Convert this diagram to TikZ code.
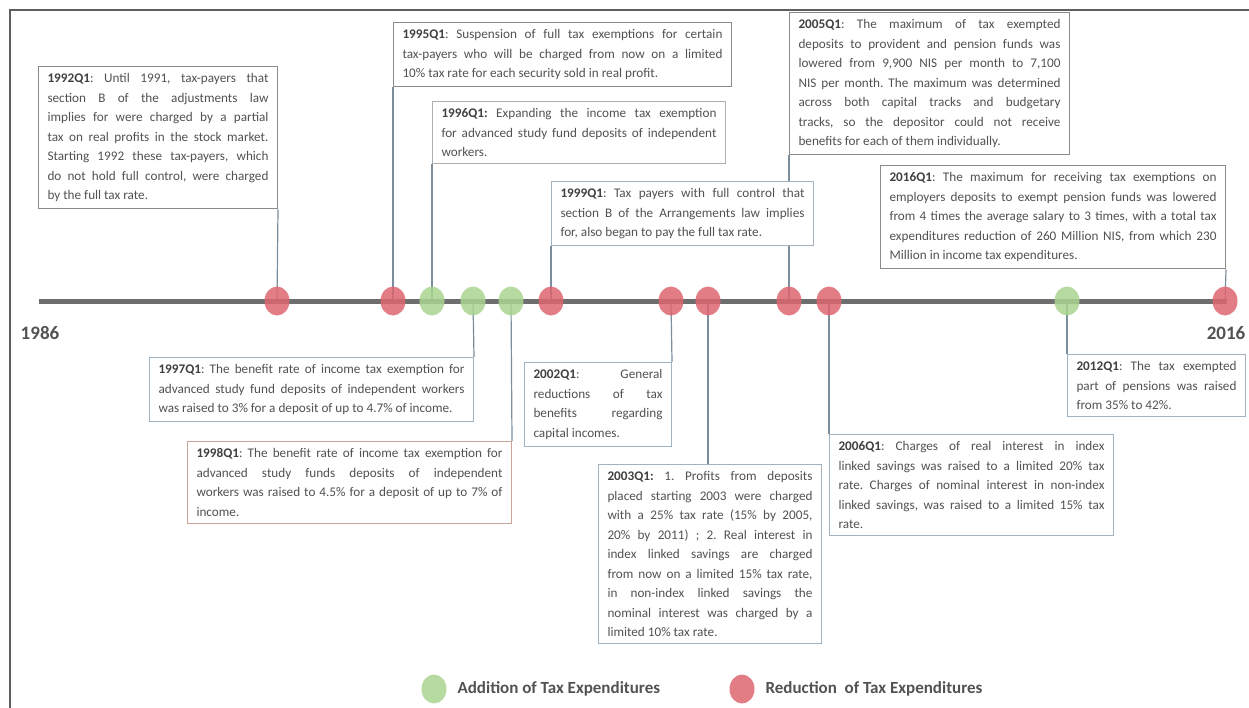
\documentclass[tikz,border=0pt]{standalone}
\usepackage{fontspec}
\setmainfont{Carlito}
\usetikzlibrary{shapes.geometric,backgrounds}
\definecolor{txt}{HTML}{525252}
\definecolor{lbl}{HTML}{404040}
\definecolor{boxgray}{HTML}{8A8A8A}
\definecolor{boxblue}{HTML}{9FB3C3}
\definecolor{boxred}{HTML}{C9A396}
\definecolor{conncol}{HTML}{7A8E9E}
\definecolor{linegray}{HTML}{6E6E6E}
\definecolor{redfill}{HTML}{DE6670}
\definecolor{greenfill}{HTML}{A9D48E}
\definecolor{framecol}{HTML}{5E5E5E}
\hyphenpenalty=10000
\exhyphenpenalty=10000
\frenchspacing
\newcommand{\yr}[1]{\textcolor{lbl}{\textbf{#1}}}
\begin{document}
\begin{tikzpicture}[x=1pt,y=-1pt,
  box/.style={draw=boxgray, line width=1pt, fill=white, anchor=north west,
    inner xsep=9pt, inner ysep=7pt, align=justify, text=txt,
    font=\fontsize{13.2}{19.5}\selectfont\frenchspacing},
  bluebox/.style={box, draw=boxblue},
  redbox/.style={box, draw=boxred},
  conn/.style={draw=conncol, line width=1.2pt},
  dotbase/.style={ellipse, minimum width=25pt, minimum height=29pt, inner sep=0pt, draw=none, fill opacity=0.85},
  reddot/.style={dotbase, fill=redfill},
  greendot/.style={dotbase, fill=greenfill},
  yearlbl/.style={text=txt, font=\fontsize{19}{22}\selectfont\bfseries},
  legendlbl/.style={text=txt, anchor=west, font=\fontsize{17}{20}\selectfont\bfseries}]
\useasboundingbox (0,0) rectangle (1249,707);
% frame
\coordinate (fr0) at (10,707);
\coordinate (fr1) at (10,10);
\coordinate (fr2) at (1249,10);
\draw[framecol, line width=2.5pt, line cap=rect] (fr1) -- (fr2);
\draw[framecol, line width=2.5pt, line cap=rect] (fr1) -- (fr0);
% timeline
\coordinate (tl0) at (39,301);
\coordinate (tl1) at (1227,301);
\draw[linegray, line width=5pt] (tl0) -- (tl1);
% event positions
\coordinate (c1992) at (277,301);
\coordinate (c1995) at (393,301);
\coordinate (c1996) at (432,301);
\coordinate (c1997) at (473,301);
\coordinate (c1998) at (511,301);
\coordinate (c1999) at (551,301);
\coordinate (c2002) at (671,301);
\coordinate (c2003) at (708,301);
\coordinate (c2005) at (789,301);
\coordinate (c2006) at (829,301);
\coordinate (c2012) at (1067,301);
\coordinate (c2016) at (1225,301);
% boxes
\node[box, text width=221pt] (b1992) at (38,66) {\yr{1992Q1}: Until 1991, tax-payers that\linebreak section B of the adjustments law\linebreak implies for were charged by a partial\linebreak tax on real profits in the stock market.\linebreak Starting 1992 these tax-payers, which\linebreak do not hold full control, were charged\linebreak by the full tax rate.};
\node[box, text width=320pt] (b1995) at (393,22) {\yr{1995Q1}: Suspension of full tax exemptions for certain\linebreak tax-payers who will be charged from now on a limited\linebreak 10\% tax rate for each security sold in real profit.};
\node[box, draw=boxgray!70, text width=275pt] (b1996) at (432,101) {\yr{1996Q1:} Expanding the income tax exemption\linebreak for advanced study fund deposits of independent\linebreak workers.};
\node[bluebox, text width=244pt] (b1999) at (551,181) {\yr{1999Q1}: Tax payers with full control that\linebreak section B of the Arrangements law implies\linebreak for, also began to pay the full tax rate.};
\node[box, text width=262pt] (b2005) at (789,12) {\yr{2005Q1}: The maximum of tax exempted\linebreak deposits to provident and pension funds was\linebreak lowered from 9,900 NIS per month to 7,100\linebreak NIS per month. The maximum was determined\linebreak across both capital tracks and budgetary\linebreak tracks, so the depositor could not receive\linebreak benefits for each of them individually.};
\node[box, text width=327pt] (b2016) at (880,165) {\yr{2016Q1}: The maximum for receiving tax exemptions on\linebreak employers deposits to exempt pension funds was lowered\linebreak from 4 times the average salary to 3 times, with a total tax\linebreak expenditures reduction of 260 Million NIS, from which 230\linebreak Million in income tax expenditures.};
\node[bluebox, text width=306pt] (b1997) at (149,357) {\yr{1997Q1}: The benefit rate of income tax exemption for\linebreak advanced study fund deposits of independent workers\linebreak was raised to 3\% for a deposit of up to 4.7\% of income.};
\node[redbox, text width=306pt] (b1998) at (187,441) {\yr{1998Q1}: The benefit rate of income tax exemption for\linebreak advanced study funds deposits of independent\linebreak workers was raised to 4.5\% for a deposit of up to 7\% of\linebreak income.};
\node[bluebox, text width=129pt] (b2002) at (524,362) {\yr{2002Q1}: General\linebreak reductions of tax\linebreak benefits regarding\linebreak capital incomes.};
\node[bluebox, text width=205pt] (b2003) at (598,464) {\yr{2003Q1:} 1. Profits from deposits\linebreak placed starting 2003 were charged\linebreak with a 25\% tax rate (15\% by 2005,\linebreak 20\% by 2011) ; 2. Real interest in\linebreak index linked savings are charged\linebreak from now on a limited 15\% tax rate,\linebreak in non-index linked savings the\linebreak nominal interest was charged by a\linebreak limited 10\% tax rate.};
\node[bluebox, text width=266pt] (b2006) at (829,434) {\yr{2006Q1}: Charges of real interest in index\linebreak linked savings was raised to a limited 20\% tax\linebreak rate. Charges of nominal interest in non-index\linebreak linked savings, was raised to a limited 15\% tax\linebreak rate.};
\node[bluebox, text width=160pt] (b2012) at (1067,354) {\yr{2012Q1}: The tax exempted\linebreak part of pensions was raised\linebreak from 35\% to 42\%.};
% connectors (behind boxes)
\begin{pgfonlayer}{background}
\draw[conn] (c1992) -- (b1992.south east);
\draw[conn] (c1995) -- (b1995.south west);
\draw[conn] (c1996) -- (b1996.south west);
\draw[conn] (c1997) -- (b1997.north east);
\draw[conn] (c1998) -- (b1998.north east);
\draw[conn] (c1999) -- (b1999.south west);
\draw[conn] (c2002) -- (b2002.north east);
\draw[conn] (c2003) -- (b2003.north west -| c2003);
\draw[conn] (c2005) -- (b2005.south west);
\draw[conn] (c2006) -- (b2006.north west);
\draw[conn] (c2012) -- (b2012.north west);
\draw[conn] (c2016) -- (b2016.south east);
\end{pgfonlayer}
% dots
\node[reddot] (d1992) at (c1992) {};
\node[reddot] (d1995) at (c1995) {};
\node[greendot] (d1996) at (c1996) {};
\node[greendot] (d1997) at (c1997) {};
\node[greendot] (d1998) at (c1998) {};
\node[reddot] (d1999) at (c1999) {};
\node[reddot] (d2002) at (c2002) {};
\node[reddot] (d2003) at (c2003) {};
\node[reddot] (d2005) at (c2005) {};
\node[reddot] (d2006) at (c2006) {};
\node[greendot] (d2012) at (c2012) {};
\node[reddot] (d2016) at (c2016) {};
% year labels
\node[yearlbl] (y1986) at (40,333) {1986};
\node[yearlbl] (y2016) at (1226,333) {2016};
% legend
\node[greendot] (lg) at (434,689) {};
\node[legendlbl] (lgt) at (454,689) {Addition of Tax Expenditures};
\node[reddot] (lr) at (742,689) {};
\node[legendlbl] (lrt) at (762,689) {Reduction~ of Tax Expenditures};
\end{tikzpicture}
\end{document}
